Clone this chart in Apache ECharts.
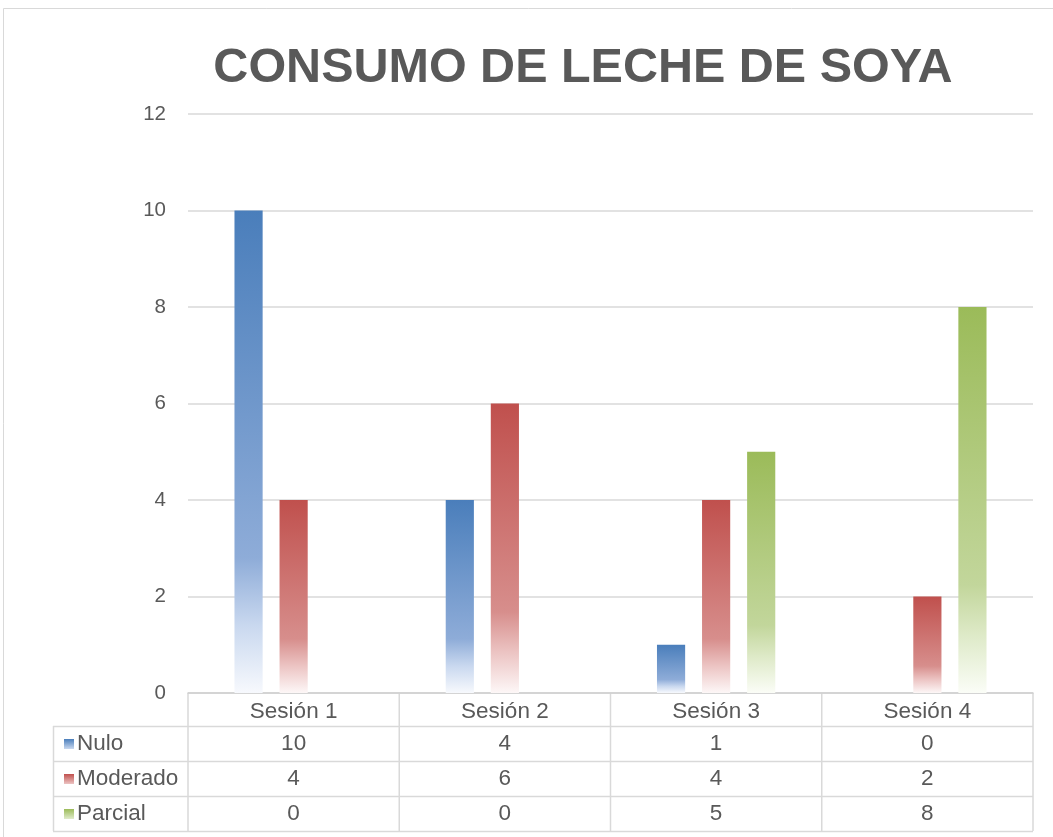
<!DOCTYPE html>
<html><head><meta charset="utf-8">
<script src="https://cdn.jsdelivr.net/npm/echarts/dist/echarts.min.js"></script>
<style>html,body{margin:0;padding:0;background:#fff}#c{width:1053px;height:837px}</style>
</head><body><div id="c"></div>
<script>
const chartTitle = 'CONSUMO DE LECHE DE SOYA';
const categories = ['Sesión 1', 'Sesión 2', 'Sesión 3', 'Sesión 4'];
const seriesNames = ['Nulo', 'Moderado', 'Parcial'];
const nulo = [10, 4, 1, 0];
const moderado = [4, 6, 4, 2];
const parcial = [0, 0, 5, 8];
const yMin = 0, yMax = 12, yInterval = 2;

const seriesValues = [nulo, moderado, parcial];
const palette = [
  ['#4a7ebb', '#8eacd8', '#c9d8ef', '#f7f9fd'],
  ['#c0504d', '#d78e8c', '#ecc4c3', '#fdf7f7'],
  ['#9bbb59', '#c2d69b', '#e0ebcb', '#fbfdf7']
];
const TXT = '#595959';
const FONT = 'Liberation Sans, Arial, sans-serif';
const GL = 188, GR = 1033, GT = 114, GB = 693;
const rowEdges = [726, 761, 796, 831];
const tableLeft = 53;
const lineColor = '#d9d9d9';
const tableFont = 22.5;

function grad(c) {
  return new echarts.graphic.LinearGradient(0, 0, 0, 1, [
    {offset: 0, color: c[0]}, {offset: 0.72, color: c[1]},
    {offset: 0.86, color: c[2]}, {offset: 1, color: c[3]}
  ]);
}

const chart = echarts.init(document.getElementById('c'), null, {renderer: 'canvas'});

const graphics = [];
graphics.push({type: 'rect', shape: {x: 3.5, y: 8.5, width: 1200, height: 1000},
  style: {fill: 'none', stroke: '#d9d9d9', lineWidth: 1}, z: -1, silent: true});
graphics.push({type: 'text', x: 583, y: 44, style: {text: chartTitle, fill: TXT,
  font: 'bold 48.5px ' + FONT, textAlign: 'center', textVerticalAlign: 'top'}});

const colW = (GR - GL) / categories.length;
rowEdges.forEach(y => graphics.push({type: 'line', shape: {x1: tableLeft, y1: y + 0.5, x2: GR, y2: y + 0.5},
  style: {stroke: lineColor, lineWidth: 1.5}}));
graphics.push({type: 'line', shape: {x1: tableLeft + 0.5, y1: rowEdges[0], x2: tableLeft + 0.5, y2: rowEdges[rowEdges.length - 1]},
  style: {stroke: lineColor, lineWidth: 1.5}});
for (let i = 0; i <= categories.length; i++) {
  const x = GL + i * colW;
  graphics.push({type: 'line', shape: {x1: x, y1: GB, x2: x, y2: rowEdges[rowEdges.length - 1]},
    style: {stroke: lineColor, lineWidth: 1.5}});
}
seriesNames.forEach((name, r) => {
  const cy = (rowEdges[r] + rowEdges[r + 1]) / 2 + 0.5;
  graphics.push({type: 'rect', shape: {x: 64, y: cy - 5, width: 10, height: 10},
    style: {fill: new echarts.graphic.LinearGradient(0, 0, 0, 1, [
      {offset: 0, color: palette[r][0]}, {offset: 1, color: palette[r][2]}])}});
  graphics.push({type: 'text', x: 77, y: cy, style: {text: name, fill: TXT,
    font: tableFont + 'px ' + FONT, textAlign: 'left', textVerticalAlign: 'middle'}});
  seriesValues[r].forEach((v, c) => {
    graphics.push({type: 'text', x: GL + (c + 0.5) * colW, y: cy, style: {text: String(v), fill: TXT,
      font: tableFont + 'px ' + FONT, textAlign: 'center', textVerticalAlign: 'middle'}});
  });
});

chart.setOption({
  animation: false,
  backgroundColor: '#ffffff',
  grid: {left: GL, right: 1053 - GR, top: GT, bottom: 837 - GB, containLabel: false},
  xAxis: {
    type: 'category', data: categories,
    axisLine: {show: true, lineStyle: {color: '#cfcfcf', width: 1.5}},
    axisTick: {show: false},
    axisLabel: {color: TXT, fontSize: tableFont, fontFamily: FONT, margin: 7}
  },
  yAxis: {
    type: 'value', min: yMin, max: yMax, interval: yInterval,
    axisLine: {show: false}, axisTick: {show: false},
    axisLabel: {color: TXT, fontSize: 20.5, fontFamily: FONT, margin: 22},
    splitLine: {lineStyle: {color: '#d9d9d9', width: 1.5}}
  },
  series: seriesNames.map((name, i) => ({
    name, type: 'bar', data: seriesValues[i],
    barGap: '60%', barCategoryGap: '44%',
    itemStyle: {color: grad(palette[i])}
  })),
  graphic: graphics
});
</script>
</body></html>
